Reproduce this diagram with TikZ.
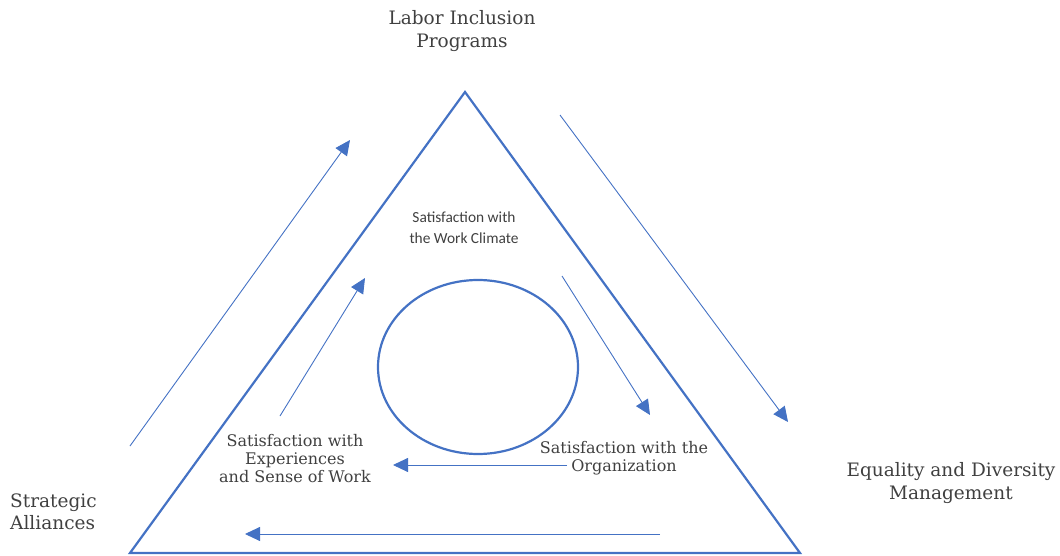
\documentclass[tikz,border=0pt]{standalone}
\usepackage{fontspec}
\setmainfont{DejaVu Serif}
\newfontfamily\climatefont{Carlito}
\usetikzlibrary{arrows.meta}
\definecolor{officeblue}{RGB}{68,114,196}
\definecolor{labelgray}{RGB}{64,64,64}
\tikzset{
  side/.style={draw=officeblue, line width=2.2pt, line join=miter},
  flow/.style={draw=officeblue, line width=0.9pt, -{Triangle[length=15pt,width=14pt]}},
  outerlabel/.style={text=labelgray, align=center, font=\fontsize{18.5}{22.5}\selectfont, inner sep=0},
  innerlabel/.style={text=labelgray, align=center, font=\fontsize{16}{18}\selectfont, inner sep=0}
}
\begin{document}
\begin{tikzpicture}[x=1pt, y=-1pt]
	\useasboundingbox (0, 0) rectangle (1060, 556);
	% triangle and ring
	\draw[side] (465, 92) -- (800, 553) -- (130, 553) -- cycle;
	\draw[side] (478, 367) ellipse [x radius=100, y radius=87];
	% outer cycle
	\coordinate (outL1) at (130, 446);
	\coordinate (outL2) at (350, 140);
	\coordinate (outR1) at (560, 115);
	\coordinate (outR2) at (788, 422);
	\coordinate (outB1) at (660, 534);
	\coordinate (outB2) at (245, 534);
	\draw[flow] (outL1) -- (outL2);
	\draw[flow] (outR1) -- (outR2);
	\draw[flow] (outB1) -- (outB2);
	% inner cycle
	\coordinate (inL1) at (280, 416);
	\coordinate (inL2) at (365, 278);
	\coordinate (inR1) at (562, 276);
	\coordinate (inR2) at (650, 415);
	\coordinate (inB1) at (567, 465);
	\coordinate (inB2) at (393, 465);
	\draw[flow] (inL1) -- (inL2);
	\draw[flow] (inR1) -- (inR2);
	\draw[flow] (inB1) -- (inB2);
	% labels
	\node[outerlabel] (programs) at (462, 31) {Labor Inclusion\\Programs};
	\node[outerlabel] (equality) at (951, 483) {Equality and Diversity\\Management};
	\node[outerlabel, align=left, anchor=west] (alliances) at (10, 512) {Strategic\\Alliances};
	\node[text=labelgray, align=center, inner sep=0, font=\climatefont\fontsize{15.4}{21}\selectfont] (climate) at (464, 228) {Satisfaction with\\the Work Climate};
	\node[innerlabel] (experiences) at (295, 459) {Satisfaction with\\Experiences\\and Sense of Work};
	\node[innerlabel] (organization) at (624, 458) {Satisfaction with the\\Organization};
\end{tikzpicture}
\end{document}
